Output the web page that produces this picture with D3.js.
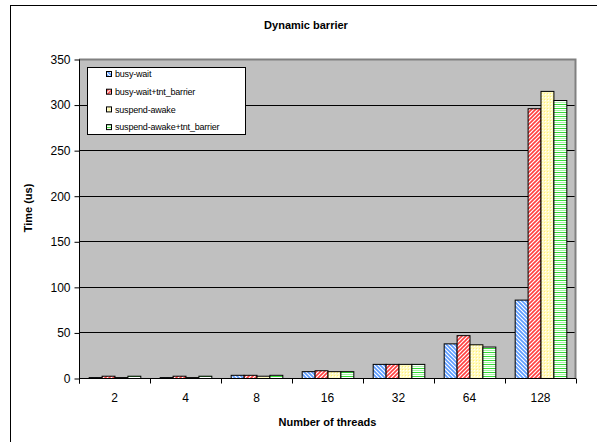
<!DOCTYPE html>
<html>
<head>
<meta charset="utf-8">
<script src="https://cdn.jsdelivr.net/npm/d3@7"></script>
<style>
  body { margin: 0; background: #fff; }
  text { font-family: "Liberation Sans", Arial, sans-serif; }
</style>
</head>
<body>
<script>
// Dynamic barrier - grouped bars

let threads = ['2', '4', '8', '16', '32', '64', '128']
let busyWait = [1, 1, 3.5, 7.5, 15.5, 38, 86]
let busyWaitTnt = [2.5, 2.5, 3.5, 8.5, 15.5, 47, 296]
let suspendAwake = [1, 1, 2.5, 7.5, 15.5, 37, 315]
let suspendAwakeTnt = [2.5, 2.5, 3.5, 7.5, 15.5, 34.5, 305]
let seriesNames = ['busy-wait', 'busy-wait+tnt_barrier', 'suspend-awake', 'suspend-awake+tnt_barrier']
let yTicks = [0, 50, 100, 150, 200, 250, 300, 350]

let allSeries = [busyWait, busyWaitTnt, suspendAwake, suspendAwakeTnt]

let W = 597, H = 442
let margin = { left: 79, right: 21, top: 59, bottom: 64 }

let svg = d3.select('body').append('svg')
  .attr('width', W)
  .attr('height', H)

// 填充图案
let defs = svg.append('defs')
function diag(id, color, down) {
  let p = defs.append('pattern').attr('id', id)
    .attr('patternUnits', 'userSpaceOnUse')
    .attr('width', 4).attr('height', 4)
  p.append('rect').attr('width', 4).attr('height', 4).attr('fill', '#fff')
  let d = down ? 'M-1,-1 L5,5 M-1,3 L1,5 M3,-1 L5,1' : 'M-1,5 L5,-1 M-1,1 L1,-1 M3,5 L5,3'
  p.append('path').attr('d', d).attr('stroke', color).attr('stroke-width', 1.6)
}
diag('pBlue', '#5b9bff', true)
diag('pRed', '#ff4040', false)
let py = defs.append('pattern').attr('id', 'pYellow')
  .attr('patternUnits', 'userSpaceOnUse').attr('width', 3).attr('height', 3)
py.append('rect').attr('width', 3).attr('height', 3).attr('fill', '#fffac0')
py.append('rect').attr('x', 1).attr('y', 1).attr('width', 1).attr('height', 1).attr('fill', '#ffffff')
py.append('rect').attr('x', 0).attr('y', 0).attr('width', 1).attr('height', 1).attr('fill', '#fff07a')
let pg = defs.append('pattern').attr('id', 'pGreen')
  .attr('patternUnits', 'userSpaceOnUse').attr('width', 4).attr('height', 4)
pg.append('rect').attr('width', 4).attr('height', 4).attr('fill', '#fff')
pg.append('rect').attr('y', 0).attr('width', 4).attr('height', 1).attr('fill', '#33dd33')
pg.append('rect').attr('y', 2).attr('width', 4).attr('height', 1).attr('fill', '#a8f0a8')
let fills = ['url(#pBlue)', 'url(#pRed)', 'url(#pYellow)', 'url(#pGreen)']

// 外框
svg.append('rect')
  .attr('x', 10.5).attr('y', 5.5)
  .attr('width', 620).attr('height', 460)
  .attr('fill', '#fff').attr('stroke', '#000')

let plotW = W - margin.left - margin.right
let plotH = H - margin.top - margin.bottom

// 比例尺
let xScale = d3.scaleBand().domain(threads).range([margin.left, margin.left + plotW])
let xInner = d3.scaleBand().domain(d3.range(4)).range([0, xScale.bandwidth()]).paddingOuter(0.75).paddingInner(0)
let yScale = d3.scaleLinear().domain([0, 350]).range([margin.top + plotH, margin.top])

// 绘图区
svg.append('rect')
  .attr('x', margin.left).attr('y', margin.top)
  .attr('width', plotW).attr('height', plotH)
  .attr('fill', '#c0c0c0')

// 网格线
svg.append('g')
  .selectAll('line')
  .data(yTicks.filter(d => d > 0 && d < 350))
  .join('line')
  .attr('x1', margin.left).attr('x2', margin.left + plotW)
  .attr('y1', d => Math.round(yScale(d)) + 0.5)
  .attr('y2', d => Math.round(yScale(d)) + 0.5)
  .attr('stroke', '#000')

// 绘图区边框 (上, 右)
svg.append('path')
  .attr('d', 'M' + margin.left + ',' + (margin.top + 0.5) + 'H' + (margin.left + plotW - 0.5) + 'V' + (margin.top + plotH))
  .attr('fill', 'none').attr('stroke', '#808080').attr('stroke-width', 2)

// 柱
let groups = svg.append('g')
  .selectAll('g')
  .data(threads)
  .join('g')
  .attr('transform', d => 'translate(' + xScale(d) + ',0)')
groups.selectAll('rect')
  .data((d, i) => allSeries.map((s, k) => ({ k: k, v: s[i] })))
  .join('rect')
  .attr('x', d => xInner(d.k) + 0.5)
  .attr('width', xInner.bandwidth())
  .attr('y', d => yScale(d.v) + 0.5)
  .attr('height', d => yScale(0) - yScale(d.v))
  .attr('fill', d => fills[d.k])
  .attr('stroke', '#000')
  .attr('stroke-width', 1)

// y轴
let yAxis = d3.axisLeft(yScale).tickValues(yTicks).tickSize(5).tickPadding(4)
let gy = svg.append('g')
  .attr('transform', 'translate(' + (margin.left + 0.5) + ',0.5)')
  .call(yAxis)
gy.select('.domain').attr('d', 'M0,' + margin.top + 'V' + (margin.top + plotH + 5))
gy.selectAll('text').attr('font-size', 12).attr('font-family', 'Liberation Sans, Arial, sans-serif').attr('fill', '#000')

// x轴
let gx = svg.append('g')
  .attr('transform', 'translate(0,' + (margin.top + plotH + 0.5) + ')')
gx.append('line')
  .attr('x1', margin.left).attr('x2', margin.left + plotW)
  .attr('stroke', '#000')
gx.selectAll('.tk')
  .data(threads.concat(['end']))
  .join('line')
  .attr('class', 'tk')
  .attr('x1', d => (d === 'end' ? margin.left + plotW : xScale(d)) + 0.5)
  .attr('x2', d => (d === 'end' ? margin.left + plotW : xScale(d)) + 0.5)
  .attr('y1', 0).attr('y2', 5)
  .attr('stroke', '#000')
gx.selectAll('.lbl')
  .data(threads)
  .join('text')
  .attr('class', 'lbl')
  .attr('x', d => xScale(d) + xScale.bandwidth() / 2)
  .attr('y', 23)
  .attr('text-anchor', 'middle')
  .attr('font-size', 12)
  .text(d => d)

// 标题
svg.append('text')
  .attr('x', 306).attr('y', 29)
  .attr('text-anchor', 'middle')
  .attr('font-size', 11).attr('font-weight', 'bold')
  .text('Dynamic barrier')
svg.append('text')
  .attr('x', margin.left + plotW / 2).attr('y', 426)
  .attr('text-anchor', 'middle')
  .attr('font-size', 11).attr('font-weight', 'bold')
  .text('Number of threads')
svg.append('text')
  .attr('transform', 'translate(32,' + 208 + ') rotate(-90)')
  .attr('text-anchor', 'middle')
  .attr('font-size', 11).attr('font-weight', 'bold')
  .text('Time (us)')

// 图例
let legend = svg.append('g')
legend.append('rect')
  .attr('x', 87.5).attr('y', 67.5)
  .attr('width', 158).attr('height', 67)
  .attr('fill', '#fff').attr('stroke', '#000')
let items = legend.selectAll('.it')
  .data(seriesNames)
  .join('g')
  .attr('class', 'it')
  .attr('transform', (d, i) => 'translate(106,' + (74 + i * 17.7) + ')')
items.append('rect')
  .attr('x', 0.5).attr('y', -2.5)
  .attr('width', 5).attr('height', 5)
  .attr('fill', (d, i) => fills[i])
  .attr('stroke', '#000')
items.append('text')
  .attr('x', 9).attr('y', 3.2)
  .attr('font-size', 9)
  .attr('letter-spacing', -0.2)
  .text(d => d)
</script>
</body>
</html>
